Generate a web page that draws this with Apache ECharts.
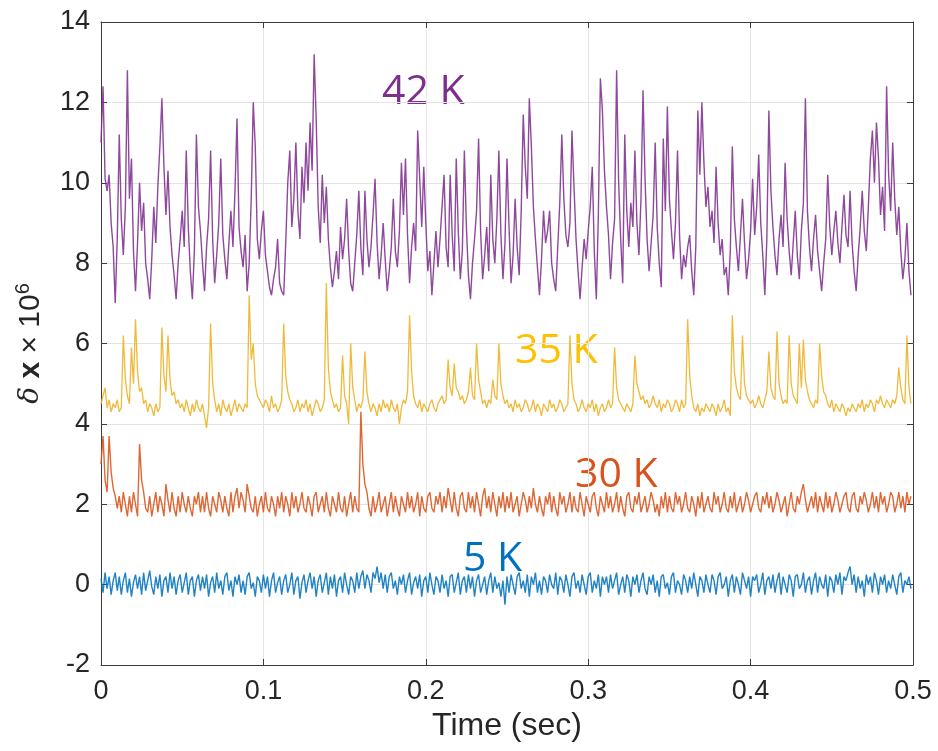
<!DOCTYPE html>
<html>
<head>
<meta charset="utf-8">
<title>δx traces at 5 K, 30 K, 35 K and 42 K</title>
<script src="https://cdn.jsdelivr.net/npm/echarts@6/dist/echarts.min.js"></script>
<style>
  html, body { margin: 0; padding: 0; background: #ffffff; }
  #chart { width: 938px; height: 751px; }
</style>
</head>
<body>
<div id="chart"></div>
<script>
// Sample spacing of every trace, in seconds
const sampleInterval = 0.00125;

// Axis tick labels
const xTickLabels = ['0', '0.1', '0.2', '0.3', '0.4', '0.5'];
const yTickLabels = ['-2', '0', '2', '4', '6', '8', '10', '12', '14'];

// Trace names
const traceNames = ['5 K', '30 K', '35 K', '42 K'];

// δx × 10^6 at 42 K
const k42 = [
  11.0, 12.4, 10.1, 9.8, 10.2, 9.0, 8.4, 7.0, 8.6, 11.2,
  9.1, 8.2, 9.4, 12.8, 9.6, 10.6, 8.3, 7.3, 8.5, 10.0,
  8.8, 9.5, 8.0, 7.6, 7.1, 8.1, 9.4, 8.5, 9.9, 10.9,
  12.1, 10.4, 9.2, 10.3, 8.9, 8.2, 7.7, 7.1, 8.0, 8.6,
  9.3, 8.4, 10.8, 8.9, 7.8, 7.1, 8.3, 11.2, 9.4, 8.8,
  8.0, 7.3, 8.4, 9.1, 10.8, 8.6, 7.5, 8.2, 9.0, 10.6,
  8.7, 8.1, 7.6, 8.5, 9.3, 8.4, 9.8, 11.6, 8.9, 8.3,
  7.9, 8.7, 7.3, 8.0, 9.6, 12.0, 10.9, 8.6, 8.1, 8.8,
  9.3, 8.2, 7.8, 7.4, 7.2, 7.6, 7.9, 8.6, 7.5, 7.3,
  7.2, 8.5, 10.0, 10.8, 8.9, 9.6, 11.0, 9.3, 8.6, 10.4,
  9.5, 11.0, 9.8, 11.5, 10.3, 13.2, 11.6, 9.4, 8.5, 10.2,
  9.0, 9.9, 8.6, 7.9, 7.4, 7.8, 8.3, 7.6, 8.9, 8.1,
  8.6, 9.6, 8.3, 7.5, 7.3, 8.0, 8.7, 9.8, 8.4, 7.7,
  9.8, 8.6, 7.9, 8.4, 9.2, 10.1, 8.5, 7.6, 8.2, 9.0,
  8.1, 7.3, 7.8, 8.4, 9.6, 8.3, 7.9, 8.8, 10.5, 9.2,
  10.6, 8.7, 7.5, 8.4, 9.0, 8.3, 11.3, 10.1, 8.9, 10.4,
  9.0, 7.8, 8.3, 7.2, 8.0, 8.8, 7.9, 8.6, 9.4, 10.2,
  8.4, 7.9, 10.2, 8.7, 7.8, 10.6, 8.8, 7.6, 8.3, 10.8,
  8.9, 7.7, 7.1, 8.0, 8.6, 9.3, 11.1, 8.8, 7.6, 8.2,
  8.9, 7.8, 10.2, 8.6, 8.0, 9.1, 10.8, 8.7, 7.6, 8.5,
  10.6, 8.9, 7.5, 8.2, 9.6, 8.4, 7.7, 9.3, 11.7, 10.4,
  9.6, 12.1, 10.9, 9.4, 8.6, 7.9, 7.2, 8.1, 9.3, 8.5,
  8.8, 9.3, 8.0, 7.6, 7.3, 8.4, 9.5, 11.2, 9.6, 8.7,
  8.4, 9.0, 11.3, 9.9, 8.6, 7.8, 7.1, 7.9, 8.6, 8.1,
  8.8, 9.4, 10.4, 8.3, 7.1, 9.2, 12.6, 11.8, 10.3, 9.4,
  8.7, 7.6, 8.5, 9.1, 12.8, 10.0, 8.6, 7.5, 11.2, 9.3,
  8.4, 9.5, 8.9, 10.8, 9.0, 8.2, 9.6, 12.3, 10.1, 8.6,
  7.8, 8.5, 9.2, 11.0, 8.9, 8.0, 7.4, 11.1, 9.3, 11.9,
  9.6, 8.8, 8.1, 9.0, 10.8, 8.7, 7.6, 8.2, 7.9, 8.4,
  8.7, 7.8, 7.2, 8.4, 11.8, 10.2, 12.0, 10.5, 9.4, 9.9,
  8.9, 9.3, 8.5, 10.4, 9.0, 8.2, 8.6, 7.7, 7.9, 7.2,
  8.3, 10.9, 9.1, 8.4, 7.8, 8.7, 9.6, 8.5, 7.6, 8.1,
  8.8, 10.1, 8.7, 9.4, 10.7, 9.0, 8.2, 7.2, 8.6, 11.8,
  9.8, 8.9, 8.2, 7.7, 8.6, 9.2, 8.4, 10.5, 9.1, 8.3,
  7.7, 8.5, 9.3, 8.2, 7.6, 8.8, 9.5, 12.1, 9.3, 8.4,
  7.8, 8.6, 9.2, 8.3, 7.8, 7.3, 8.0, 8.6, 10.2, 8.9,
  8.2, 8.8, 9.3, 8.5, 8.0, 8.9, 9.7, 8.7, 8.4, 9.8,
  8.5, 7.8, 7.3, 8.2, 8.9, 9.8, 8.8, 8.3, 9.4, 10.6,
  11.3, 10.0, 11.5, 10.6, 9.2, 9.9, 8.8, 12.4, 10.2, 9.3,
  11.0, 9.6, 8.7, 9.4, 8.3, 7.6, 8.1, 9.0, 7.8, 7.2
];

// δx × 10^6 at 35 K
const k35 = [
  4.5, 4.7, 4.9, 4.4, 4.6, 4.3, 4.5, 4.4, 4.6, 4.3,
  4.4, 6.2, 5.1, 4.7, 4.5, 5.9, 5.0, 6.6, 5.3, 4.8,
  4.9, 4.5, 4.6, 4.3, 4.5, 4.4, 4.2, 4.5, 4.3, 4.4,
  6.4, 5.2, 4.8, 6.2, 5.1, 4.7, 4.8, 4.5, 4.6, 4.4,
  4.5, 4.3, 4.6, 4.4, 4.2, 4.5, 4.3, 4.6, 4.4, 4.3,
  4.5, 4.2, 3.9, 4.4, 6.5, 5.0, 4.6, 4.3, 4.5, 4.2,
  4.6, 4.4, 4.3, 4.5, 4.2, 4.4, 4.6, 4.3, 4.5, 4.4,
  4.3, 4.5, 4.4, 7.2, 5.6, 6.0, 5.0, 4.7, 4.6, 4.5,
  4.4, 4.6, 4.5, 4.3, 4.7, 4.4, 4.5, 4.3, 4.4, 4.6,
  6.5, 5.2, 4.8, 4.6, 4.5, 4.3, 4.4, 4.6, 4.3, 4.5,
  4.4, 4.6, 4.3, 4.5, 4.2, 4.4, 4.6, 4.5, 4.3, 4.4,
  4.6, 7.5, 5.4, 4.8, 4.6, 4.4, 4.5, 4.3, 4.4, 5.7,
  4.7, 4.5, 4.0, 6.0, 4.9, 4.6, 4.3, 4.5, 4.4, 4.6,
  5.8, 4.8, 4.5, 4.3, 4.5, 4.4, 4.2, 4.5, 4.3, 4.6,
  4.4, 4.5, 4.3, 4.6, 4.4, 4.3, 4.5, 4.0, 4.4, 4.6,
  4.5, 4.8, 6.7, 5.3, 4.7, 4.5, 4.4, 4.6, 4.3, 4.5,
  4.4, 4.3, 4.5, 4.6, 4.4, 4.3, 4.5, 4.6, 4.7, 4.5,
  4.6, 5.6, 4.9, 4.7, 5.5, 4.9, 4.8, 4.6, 4.7, 4.5,
  4.6, 4.8, 5.4, 4.7, 4.6, 6.0, 5.1, 4.8, 4.5, 4.6,
  4.4, 4.6, 4.5, 5.1, 4.7, 4.6, 6.0, 5.0, 4.7, 4.5,
  4.6, 4.4, 4.5, 4.3, 4.6, 4.4, 4.5, 4.3, 4.4, 4.6,
  4.5, 4.3, 4.4, 4.6, 4.3, 4.5, 4.4, 4.2, 4.5, 4.4,
  4.3, 4.6, 4.4, 4.5, 4.3, 4.4, 4.6, 4.5, 4.3, 4.4,
  4.5, 6.2, 5.0, 4.6, 4.5, 4.3, 4.4, 4.6, 4.4, 4.3,
  4.5, 4.4, 4.6, 4.3, 4.5, 4.2, 4.4, 4.5, 4.3, 4.4,
  4.6, 4.4, 4.5, 5.9, 4.9, 4.6, 4.5, 4.4, 4.3, 4.5,
  4.4, 4.3, 4.5, 5.7, 5.0, 4.8, 4.6, 4.7, 4.5, 4.6,
  4.4, 4.5, 4.7, 4.5, 4.4, 4.6, 4.3, 4.5, 4.4, 4.6,
  4.5, 4.3, 4.4, 4.6, 4.5, 4.3, 4.6, 4.4, 4.5, 6.6,
  5.2, 4.7, 4.4, 4.3, 4.5, 4.2, 4.4, 4.3, 4.5, 4.4,
  4.3, 4.5, 4.4, 4.2, 4.5, 4.3, 4.4, 4.6, 4.3, 4.4,
  4.2, 6.7, 5.3, 4.9, 4.7, 4.6, 6.2, 5.0, 4.7, 4.6,
  4.5, 4.6, 4.4, 4.5, 4.7, 4.5, 4.4, 4.6, 4.8, 5.8,
  4.9, 4.7, 4.6, 6.3, 5.0, 4.7, 4.5, 4.6, 4.5, 6.2,
  5.0, 4.7, 4.6, 4.5, 6.0, 4.9, 6.1, 5.1, 4.8, 4.6,
  4.5, 4.4, 4.6, 4.5, 6.0, 5.2, 4.8, 4.7, 4.5, 4.4,
  4.6, 4.3, 4.5, 4.4, 4.3, 4.5, 4.4, 4.2, 4.4, 4.3,
  4.5, 4.4, 4.3, 4.5, 4.4, 4.6, 4.3, 4.5, 4.4, 4.6,
  4.5, 4.3, 4.6, 4.5, 4.7, 4.5, 4.4, 4.6, 4.5, 4.4,
  4.6, 4.5, 4.7, 5.4, 4.9, 4.6, 4.5, 6.2, 4.9, 4.5
];

// δx × 10^6 at 30 K
const k30 = [
  3.0, 3.7, 2.6, 2.3, 3.7, 2.8, 2.4, 2.2, 1.9, 2.2,
  1.8, 2.3, 2.0, 1.7, 2.2, 1.8, 2.3, 2.0, 1.7, 3.5,
  2.6, 2.3, 1.9, 1.8, 2.2, 1.7, 2.0, 2.3, 1.8, 2.2,
  2.0, 1.7, 2.5, 2.1, 1.8, 2.3, 1.9, 1.7, 2.2, 1.8,
  2.3, 2.0, 1.8, 2.2, 1.9, 1.7, 2.2, 2.0, 2.3, 1.8,
  2.2, 1.8, 2.3, 1.9, 1.7, 2.2, 2.0, 1.8, 2.3, 2.1,
  1.8, 2.2, 1.9, 1.7, 2.3, 1.8, 2.2, 2.4, 1.9, 2.3,
  2.1, 1.8, 2.5, 2.2, 1.9, 1.8, 2.2, 1.7, 2.0, 2.2,
  1.8, 2.3, 1.9, 1.8, 2.2, 2.0, 1.7, 2.2, 1.9, 2.3,
  1.8, 2.2, 2.0, 1.7, 2.3, 1.9, 2.2, 1.8, 2.0, 2.3,
  1.9, 1.8, 2.2, 2.0, 1.7, 2.2, 2.3, 1.8, 2.0, 2.2,
  1.8, 2.3, 1.9, 1.7, 2.2, 2.0, 1.8, 2.3, 1.9, 1.8,
  2.2, 1.7, 2.0, 2.3, 1.8, 2.2, 1.9, 1.8, 4.3, 3.0,
  2.5, 2.3, 1.9, 1.7, 2.2, 1.8, 2.0, 2.3, 1.8, 2.0,
  2.2, 1.7, 2.0, 2.3, 1.8, 2.2, 1.9, 1.7, 2.2, 2.0,
  1.8, 2.3, 1.9, 2.2, 1.8, 2.0, 2.3, 1.7, 2.2, 1.9,
  1.8, 2.2, 2.3, 1.9, 1.8, 2.2, 2.0, 2.3, 1.8, 2.2,
  1.9, 2.4, 2.1, 1.8, 2.3, 1.9, 1.7, 2.2, 2.3, 1.9,
  1.8, 2.3, 1.9, 2.2, 1.8, 2.3, 2.0, 1.7, 2.2, 2.4,
  1.9, 2.2, 1.8, 2.3, 2.0, 1.7, 2.2, 1.9, 2.3, 1.8,
  2.2, 1.9, 2.3, 1.8, 2.0, 2.2, 1.7, 2.0, 2.3, 2.1,
  1.8, 2.2, 1.9, 2.4, 2.0, 1.8, 2.2, 1.9, 1.7, 2.2,
  2.0, 2.3, 1.8, 2.2, 1.9, 1.7, 2.3, 2.0, 2.2, 1.8,
  2.0, 2.3, 1.8, 2.2, 1.9, 1.8, 2.3, 2.0, 1.7, 2.2,
  2.0, 1.8, 2.2, 2.3, 1.9, 1.7, 2.2, 2.0, 1.8, 2.3,
  1.9, 2.2, 1.8, 2.0, 2.3, 1.8, 2.2, 1.9, 1.7, 2.2,
  2.3, 1.9, 1.8, 2.2, 2.0, 2.3, 1.8, 2.0, 2.2, 1.8,
  2.0, 2.3, 2.1, 1.8, 2.0, 1.7, 2.2, 1.9, 2.3, 1.8,
  2.2, 1.9, 1.8, 2.3, 2.0, 2.2, 1.8, 2.0, 2.3, 1.9,
  1.8, 2.2, 2.0, 1.7, 2.2, 1.9, 2.3, 1.8, 2.0, 2.2,
  1.9, 1.8, 2.3, 2.0, 2.2, 1.8, 2.0, 2.3, 1.9, 1.8,
  2.2, 1.9, 2.3, 1.8, 2.0, 2.2, 1.8, 2.0, 2.3, 2.1,
  1.8, 2.0, 2.2, 2.3, 1.9, 1.8, 2.2, 2.0, 2.3, 1.9,
  2.2, 1.8, 2.0, 2.3, 2.1, 1.8, 2.0, 2.2, 1.7, 2.0,
  2.3, 1.9, 1.8, 2.2, 2.0, 2.3, 2.5, 2.1, 1.8, 2.0,
  2.2, 1.9, 2.3, 1.8, 2.2, 2.0, 1.8, 2.3, 1.9, 2.2,
  1.8, 2.0, 2.3, 2.1, 1.8, 2.0, 2.2, 2.3, 1.9, 1.8,
  2.2, 2.3, 1.9, 1.8, 2.2, 2.0, 2.3, 2.1, 1.8, 2.0,
  2.3, 1.9, 2.2, 1.8, 2.3, 2.0, 2.2, 1.8, 2.0, 2.3,
  2.2, 1.8, 2.0, 2.3, 1.9, 2.2, 1.8, 2.3, 2.0, 2.2
];

// δx × 10^6 at 5 K
const k5 = [
  0.15, -0.2, 0.3, -0.1, 0.2, -0.25, 0.1, 0.3, -0.15, 0.2,
  -0.25, 0.1, 0.3, -0.2, 0.15, -0.3, 0.05, 0.25, -0.1, 0.2,
  -0.25, 0.3, -0.15, 0.1, 0.35, -0.05, -0.25, 0.2, -0.1, 0.25,
  -0.3, 0.1, 0.2, -0.2, 0.3, -0.1, 0.2, -0.25, 0.1, 0.25,
  -0.2, 0.05, 0.3, -0.25, 0.1, 0.2, -0.3, 0.1, 0.25, -0.15,
  0.2, -0.1, 0.25, -0.3, 0.05, 0.2, -0.2, 0.3, -0.1, 0.1,
  -0.25, 0.2, 0.3, -0.15, 0.1, -0.3, 0.2, 0.0, 0.25, -0.2,
  0.1, -0.25, 0.2, 0.3, -0.1, 0.05, -0.3, 0.2, 0.1, -0.2,
  0.25, -0.1, 0.2, -0.3, 0.1, 0.3, -0.2, 0.05, 0.2, -0.25,
  0.1, 0.25, -0.2, 0.0, 0.3, -0.25, 0.1, 0.2, -0.35, 0.05,
  0.25, -0.2, 0.1, 0.3, -0.1, 0.2, -0.3, 0.1, 0.25, -0.2,
  0.05, 0.3, -0.25, 0.2, -0.1, 0.25, -0.3, 0.1, 0.2, -0.2,
  0.3, 0.0, -0.25, 0.2, 0.1, -0.2, 0.3, -0.1, 0.2, 0.35,
  -0.1, 0.25, 0.1, -0.2, 0.3, 0.15, 0.45, 0.05, 0.3, -0.1,
  0.25, -0.2, 0.2, 0.3, -0.1, 0.1, -0.25, 0.2, 0.0, 0.25,
  -0.2, 0.1, 0.3, -0.25, 0.05, 0.2, -0.1, 0.25, -0.3, 0.1,
  0.2, -0.2, 0.3, 0.0, -0.25, 0.2, 0.1, -0.2, 0.25, -0.1,
  0.1, -0.3, 0.2, 0.25, -0.2, 0.05, 0.3, -0.25, 0.1, 0.2,
  -0.2, 0.25, -0.1, 0.2, -0.3, 0.1, 0.25, -0.2, 0.0, 0.2,
  -0.25, 0.1, 0.3, -0.2, 0.2, -0.1, 0.05, -0.3, 0.1, -0.5,
  0.2, -0.2, 0.25, 0.0, -0.25, 0.2, 0.3, -0.1, 0.1, -0.2,
  0.25, -0.3, 0.2, 0.0, 0.3, -0.2, 0.1, -0.25, 0.2, 0.1,
  -0.2, 0.25, 0.0, -0.1, 0.3, -0.25, 0.2, 0.1, -0.2, 0.25,
  0.0, -0.3, 0.2, 0.3, -0.1, 0.1, -0.2, 0.25, 0.0, -0.25,
  0.2, 0.3, -0.2, 0.1, -0.1, 0.25, -0.3, 0.2, 0.0, 0.2,
  -0.2, 0.25, -0.1, 0.1, 0.3, -0.25, 0.0, 0.2, -0.2, 0.25,
  0.1, -0.3, 0.2, 0.0, 0.25, -0.2, 0.1, 0.3, -0.1, -0.25,
  0.2, 0.0, 0.25, -0.2, 0.1, -0.3, 0.2, 0.25, -0.1, 0.05,
  -0.25, 0.2, 0.3, -0.2, 0.1, 0.0, -0.25, 0.25, 0.1, -0.2,
  0.2, -0.1, 0.3, 0.0, -0.3, 0.2, 0.1, -0.2, 0.25, 0.0,
  -0.2, 0.25, 0.1, -0.25, 0.2, 0.3, -0.1, 0.0, 0.2, -0.3,
  0.1, 0.25, -0.2, 0.2, 0.0, -0.25, 0.3, 0.1, -0.1, 0.2,
  -0.3, 0.2, 0.1, 0.25, -0.2, 0.0, 0.3, -0.25, 0.1, 0.2,
  -0.1, 0.25, -0.2, 0.1, 0.3, -0.25, 0.2, 0.0, -0.2, 0.25,
  0.1, -0.3, 0.2, 0.25, -0.1, 0.0, 0.3, -0.2, 0.1, 0.2,
  -0.25, 0.1, 0.3, -0.2, 0.2, 0.0, -0.1, 0.25, -0.3, 0.2,
  0.1, -0.2, 0.25, 0.0, 0.3, -0.25, 0.2, 0.1, 0.3, 0.45,
  0.0, 0.25, -0.2, 0.2, -0.1, 0.1, -0.3, 0.25, 0.0, 0.2,
  -0.2, 0.3, 0.1, -0.25, 0.2, 0.0, 0.25, -0.2, 0.1, -0.1,
  0.25, 0.0, -0.25, 0.2, 0.3, -0.2, 0.1, 0.0, 0.2, -0.1
];

const traceValues = [k5, k30, k35, k42];
const lineColors = ['#0072BD', '#D95319', '#EDB120', '#7E2F8E'];
const lineWidths = [1.4, 1.4, 1.3, 1.4];
const labelColors = ['#0070C0', '#D9531E', '#FFC000', '#7E2F8E'];

// pair every sample with its time stamp
function toPairs(values) {
  return values.map((v, i) => [i * sampleInterval, v]);
}

const axisColor = '#3c3c3c';
const tickFont = { fontFamily: 'Liberation Sans', fontSize: 27, color: '#262626' };

const chart = echarts.init(document.getElementById('chart'), null, { renderer: 'canvas' });

const frameAxis = {
  axisLine: { show: true, onZero: false, lineStyle: { color: axisColor, width: 1 } },
  axisTick: { show: true, inside: true, length: 6, lineStyle: { color: axisColor, width: 1 } },
  axisLabel: { show: false },
  splitLine: { show: false }
};

chart.setOption({
  animation: false,
  backgroundColor: '#ffffff',
  grid: { left: 101, right: 25, top: 22, bottom: 86, containLabel: false },
  xAxis: [
    {
      type: 'value', position: 'bottom', min: 0, max: 0.5, interval: 0.1,
      axisLine: { show: true, onZero: false, lineStyle: { color: axisColor, width: 1 } },
      axisTick: { show: true, inside: true, length: 6, lineStyle: { color: axisColor, width: 1 } },
      axisLabel: Object.assign({
        margin: 13,
        formatter: (v) => xTickLabels[Math.round(v / 0.1)]
      }, tickFont),
      splitLine: { show: true, lineStyle: { color: '#e4e4e4', width: 1 } },
      name: 'Time (sec)', nameLocation: 'middle', nameGap: 34,
      nameTextStyle: { fontFamily: 'Liberation Sans', fontSize: 32, color: '#262626' }
    },
    Object.assign({ type: 'value', position: 'top', min: 0, max: 0.5, interval: 0.1 }, frameAxis)
  ],
  yAxis: [
    {
      type: 'value', position: 'left', min: -2, max: 14, interval: 2,
      axisLine: { show: true, onZero: false, lineStyle: { color: axisColor, width: 1 } },
      axisTick: { show: true, inside: true, length: 6, lineStyle: { color: axisColor, width: 1 } },
      axisLabel: Object.assign({
        margin: 11,
        formatter: (v) => yTickLabels[Math.round((v + 2) / 2)]
      }, tickFont),
      splitLine: { show: true, lineStyle: { color: '#e4e4e4', width: 1 } },
      name: '{d|δ} {b|x} × 10{s|6}', nameLocation: 'middle', nameGap: 48, nameRotate: 90,
      nameTextStyle: {
        fontFamily: 'Liberation Sans', fontSize: 30, color: '#262626', lineHeight: 36,
        rich: {
          d: { fontFamily: 'DejaVu Serif', fontStyle: 'italic', fontSize: 28, color: '#262626', lineHeight: 36 },
          b: { fontFamily: 'Liberation Sans', fontWeight: 'bold', fontSize: 30, color: '#262626', lineHeight: 36 },
          s: { fontFamily: 'Liberation Sans', fontSize: 20, color: '#262626', verticalAlign: 'top', lineHeight: 36, padding: [0, 0, 12, 0] }
        }
      }
    },
    Object.assign({ type: 'value', position: 'right', min: -2, max: 14, interval: 2 }, frameAxis)
  ],
  series: traceValues.map((vals, k) => ({
    name: traceNames[k],
    type: 'line',
    xAxisIndex: 0,
    yAxisIndex: 0,
    data: toPairs(vals),
    showSymbol: false,
    symbol: 'none',
    sampling: null,
    silent: true,
    z: 2 + k,
    lineStyle: { color: lineColors[k], width: lineWidths[k], opacity: 0.88 }
  })),
  graphic: [
    { type: 'text', left: 382, top: 72, style: { text: traceNames[3], fill: labelColors[3], font: '41px "Open Sans"' } },
    { type: 'text', left: 515, top: 331, style: { text: traceNames[2], fill: labelColors[2], font: '41px "Open Sans"' } },
    { type: 'text', left: 575, top: 455, style: { text: traceNames[1], fill: labelColors[1], font: '41px "Open Sans"' } },
    { type: 'text', left: 463, top: 539, style: { text: traceNames[0], fill: labelColors[0], font: '41px "Open Sans"' } }
  ]
});
</script>
</body>
</html>
